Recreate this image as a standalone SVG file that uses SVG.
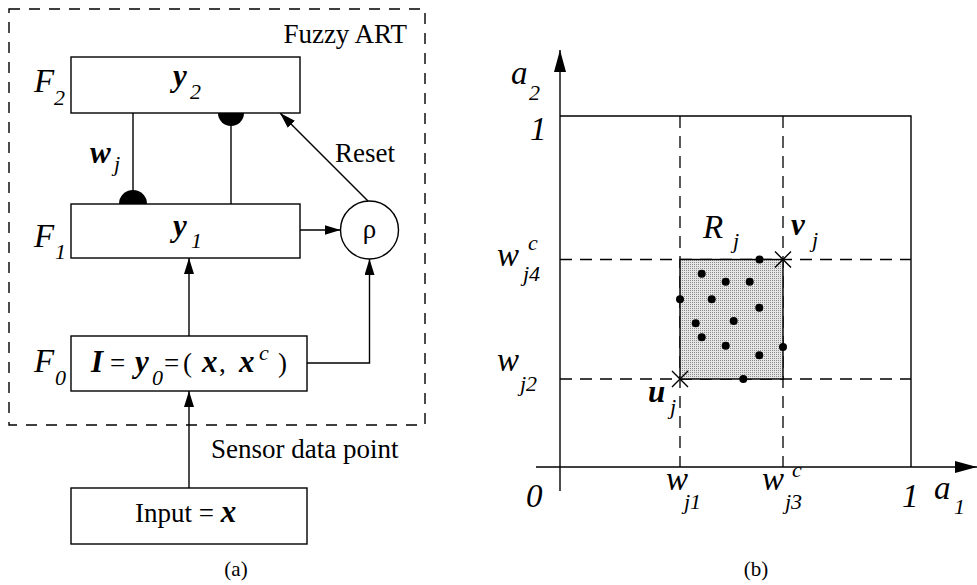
<svg xmlns="http://www.w3.org/2000/svg" width="977" height="585" viewBox="0 0 977 585">
  <defs>
    <style>
      .box { fill: #fff; stroke: #000; stroke-width: 1.4; }
      .ln { fill: none; stroke: #000; stroke-width: 1.4; }
      .dash { fill: none; stroke: #000; stroke-width: 1.4; stroke-dasharray: 11 9; }
      .dash2 { fill: none; stroke: #000; stroke-width: 1.3; stroke-dasharray: 12 8; }
      text { font-family: "Liberation Serif", "DejaVu Serif", "Times New Roman", serif; fill: #000; }
      .t { font-size: 27px; }
      .m { font-size: 33px; font-style: italic; }
      .mb { font-size: 31px; font-style: italic; font-weight: bold; }
      .s { font-size: 22px; font-style: italic; }
      .cap { font-size: 21px; }
      .dot { fill: #000; }
    </style>
    <marker id="arr" markerUnits="userSpaceOnUse" markerWidth="16" markerHeight="10" refX="16" refY="5" orient="auto">
      <path d="M0,0 L16,5 L0,10 z" fill="#000"/>
    </marker>
    <marker id="axis" markerUnits="userSpaceOnUse" markerWidth="22" markerHeight="12" refX="22" refY="6" orient="auto">
      <path d="M0,0 L22,6 L0,12 z" fill="#000"/>
    </marker>
    <pattern id="stipple" width="2" height="2" patternUnits="userSpaceOnUse">
      <rect width="2" height="2" fill="#e6e6e6"/>
      <rect width="1" height="1" fill="#8a8a8a"/>
    </pattern>
  </defs>

  <!-- (a) Fuzzy ART architecture -->
  <g id="fuzzy-art">
    <rect class="dash" x="9" y="9" width="416" height="416"/>
    <text class="t" x="407" y="43" text-anchor="end">Fuzzy ART</text>
  </g>

  <g id="connectors">
    <!-- bottom-up / top-down weight links with half-disc synapses -->
    <line class="ln" x1="133" y1="113" x2="133" y2="204"/>
    <path d="M119,204 A14,14 0 0 1 147,204 Z" fill="#000"/>
    <line class="ln" x1="231" y1="113" x2="231" y2="204"/>
    <path d="M218,113 A13,13 0 0 0 244,113 Z" fill="#000"/>
    <!-- reset signal -->
    <line class="ln" x1="368" y1="201" x2="280" y2="113" marker-end="url(#arr)"/>
    <!-- F1 to vigilance -->
    <line class="ln" x1="300" y1="230" x2="340.5" y2="230" marker-end="url(#arr)"/>
    <!-- F0 to F1 -->
    <line class="ln" x1="189" y1="336" x2="189" y2="258" marker-end="url(#arr)"/>
    <!-- F0 to vigilance -->
    <polyline class="ln" points="307,363 369.5,363 369.5,259" marker-end="url(#arr)"/>
    <!-- input to F0 -->
    <line class="ln" x1="189" y1="488" x2="189" y2="391" marker-end="url(#arr)"/>
  </g>

  <g id="f2">
    <rect class="box" x="71" y="57" width="229" height="56"/>
    <text class="m" x="34" y="92">F</text>
    <text class="s" x="54" y="105">2</text>
    <text class="mb" x="173" y="86">y</text>
    <text class="s" x="190" y="99">2</text>
  </g>

  <g id="f1">
    <rect class="box" x="71" y="204" width="229" height="54"/>
    <text class="m" x="34" y="247">F</text>
    <text class="s" x="55" y="259">1</text>
    <text class="mb" x="173" y="236">y</text>
    <text class="s" x="191" y="248">1</text>
  </g>

  <g id="weights">
    <text class="mb" x="90" y="163">w</text>
    <text class="s" x="114" y="171">j</text>
  </g>

  <g id="reset-label">
    <text class="t" x="335" y="162">Reset</text>
  </g>

  <g id="vigilance">
    <circle class="box" cx="369.5" cy="230" r="29"/>
    <text class="t" x="369.5" y="238" text-anchor="middle">ρ</text>
  </g>

  <g id="f0">
    <rect class="box" x="71" y="336" width="236" height="55"/>
    <text class="m" x="34" y="372">F</text>
    <text class="s" x="55" y="385">0</text>
    <text class="mb" x="91" y="372">I</text>
    <text class="t" x="110" y="372">=</text>
    <text class="mb" x="135" y="372">y</text>
    <text class="s" x="152" y="385">0</text>
    <text class="t" x="164" y="372">=</text>
    <text class="t" x="183" y="372">(</text>
    <text class="mb" x="202" y="372">x</text>
    <text class="t" x="219" y="372">,</text>
    <text class="mb" x="239" y="372">x</text>
    <text class="s" x="259" y="360">c</text>
    <text class="t" x="278" y="372">)</text>
  </g>

  <g id="sensor-label">
    <text class="t" x="211" y="458">Sensor data point</text>
  </g>

  <g id="input">
    <rect class="box" x="71" y="488" width="236" height="56"/>
    <text class="t" x="135" y="522">Input = <tspan class="mb">x</tspan></text>
  </g>

  <text class="cap" x="236" y="576" text-anchor="middle">(a)</text>

  <!-- (b) category hyper-rectangle in the unit square -->
  <g id="plot">
    <!-- axes -->
    <line class="ln" x1="560" y1="491" x2="560" y2="50" marker-end="url(#axis)"/>
    <line class="ln" x1="536" y1="467" x2="977" y2="467" marker-end="url(#axis)"/>
    <!-- unit square -->
    <polyline class="ln" points="560,116 911,116 911,467"/>
    <!-- weight boundaries -->
    <line class="dash2" x1="680" y1="116" x2="680" y2="467"/>
    <line class="dash2" x1="783" y1="116" x2="783" y2="467"/>
    <line class="dash2" x1="560" y1="259.5" x2="911" y2="259.5"/>
    <line class="dash2" x1="560" y1="379" x2="911" y2="379"/>
    <!-- category box R_j -->
    <rect x="680" y="259.5" width="103" height="119.5" fill="url(#stipple)" stroke="#000" stroke-width="1.4"/>
    <!-- data points -->
    <g class="dot">
      <circle cx="759.5" cy="259.5" r="4"/>
      <circle cx="701.7" cy="273.7" r="4"/>
      <circle cx="725.7" cy="281.7" r="4"/>
      <circle cx="749.7" cy="281.7" r="4"/>
      <circle cx="680" cy="299.3" r="4"/>
      <circle cx="711.7" cy="299.3" r="4"/>
      <circle cx="759.3" cy="307.7" r="4"/>
      <circle cx="695.7" cy="323.3" r="4"/>
      <circle cx="733.7" cy="321" r="4"/>
      <circle cx="701.7" cy="337.3" r="4"/>
      <circle cx="725.7" cy="345.7" r="4"/>
      <circle cx="783" cy="347" r="4"/>
      <circle cx="759.3" cy="355.3" r="4"/>
      <circle cx="743.3" cy="379" r="4"/>
    </g>
    <!-- corner markers u_j and v_j -->
    <path class="ln" d="M672,371 L688,387 M672,387 L688,371"/>
    <path class="ln" d="M775,251.5 L791,267.5 M775,267.5 L791,251.5"/>

    <!-- labels -->
    <text class="m" x="511" y="84">a</text>
    <text class="s" x="529" y="100">2</text>
    <text class="m" x="530" y="140">1</text>

    <text class="m" x="497" y="266">w</text>
    <text class="s" x="528" y="250">c</text>
    <text class="s" x="523" y="281">j4</text>

    <text class="m" x="497" y="371">w</text>
    <text class="s" x="520" y="391">j2</text>

    <text class="m" x="703" y="238">R</text>
    <text class="s" x="733" y="248">j</text>

    <text class="mb" x="791" y="235">v</text>
    <text class="s" x="812" y="247">j</text>

    <text class="mb" x="648" y="402">u</text>
    <text class="s" x="670" y="414">j</text>

    <text class="m" x="526" y="507">0</text>

    <text class="m" x="666" y="490">w</text>
    <text class="s" x="684" y="509">j1</text>

    <text class="m" x="762" y="490">w</text>
    <text class="s" x="792" y="477">c</text>
    <text class="s" x="785" y="509">j3</text>

    <text class="m" x="902" y="507">1</text>
    <text class="m" x="934" y="499">a</text>
    <text class="s" x="954" y="514">1</text>
  </g>

  <text class="cap" x="756" y="576" text-anchor="middle">(b)</text>
</svg>
